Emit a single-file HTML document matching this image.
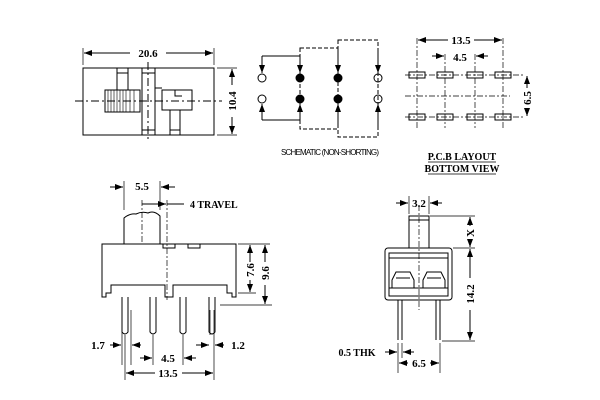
<!DOCTYPE html>
<html><head><style>body{margin:0;background:#fff}svg{display:block}</style></head><body>
<svg width="600" height="400" viewBox="0 0 600 400" xmlns="http://www.w3.org/2000/svg" font-family="Liberation Serif, serif" font-weight="bold" fill="none" stroke="#000" stroke-width="1">
<defs><marker id="a" markerWidth="8" markerHeight="6" refX="8" refY="3" orient="auto-start-reverse" markerUnits="userSpaceOnUse"><path d="M0,0L8,3L0,6z" fill="#000" stroke="none"/></marker></defs>
<!-- top left view -->
<rect x="83" y="68" width="131" height="67"/>
<line x1="75" y1="101" x2="222" y2="101" stroke-dasharray="8,3,2,3"/>
<line x1="148" y1="62" x2="148" y2="140" stroke-dasharray="8,3,2,3"/>
<rect x="105" y="90" width="35" height="22"/>
<path d="M108,90v22M111,90v22M114,90v22M117,90v22M120,90v22M123,90v22M126,90v22M130,90v22M134,90v22" stroke-width="0.6"/>
<path d="M117,90V68M128,90V68M117,73h11"/>
<path d="M142,68v67M155,68v67M142,73h13M142,130h13M155,88h7M162,90h30v20h-30zM170,110v25M180,110v25M170,130h10M175,90v6h7"/>
<path d="M83,65V48M214,65V48" stroke-width="0.7"/>
<line x1="84" y1="53" x2="130" y2="53" marker-start="url(#a)"/><line x1="166" y1="53" x2="213" y2="53" marker-end="url(#a)"/>
<text x="148" y="57" font-size="11" fill="#000" stroke="none" text-anchor="middle">20.6</text>
<path d="M217,68h20M217,135h20" stroke-width="0.7"/>
<line x1="232" y1="85" x2="232" y2="69" marker-end="url(#a)"/><line x1="232" y1="117" x2="232" y2="134" marker-end="url(#a)"/>
<text x="236" y="101" font-size="11" fill="#000" stroke="none" text-anchor="middle" transform="rotate(-90 236 101)">10.4</text>
<!-- schematic -->
<rect x="300" y="48" width="38" height="81" stroke-dasharray="4,2"/>
<rect x="338" y="40" width="40" height="97" stroke-dasharray="4,2"/>
<path d="M262,56h38M262,120h38"/>
<line x1="262" y1="56" x2="262" y2="73" marker-end="url(#a)"/><line x1="300" y1="56" x2="300" y2="73" marker-end="url(#a)"/>
<line x1="338" y1="48" x2="338" y2="73" marker-end="url(#a)"/><line x1="378" y1="48" x2="378" y2="73" marker-end="url(#a)"/>
<line x1="262" y1="120" x2="262" y2="104" marker-end="url(#a)"/><line x1="300" y1="120" x2="300" y2="104" marker-end="url(#a)"/>
<line x1="338" y1="128" x2="338" y2="104" marker-end="url(#a)"/><line x1="378" y1="128" x2="378" y2="104" marker-end="url(#a)"/>
<circle cx="262" cy="78" r="4"/><circle cx="378" cy="78" r="4"/><circle cx="262" cy="99" r="4"/><circle cx="378" cy="99" r="4"/>
<g fill="#000"><circle cx="300" cy="78" r="4"/><circle cx="338" cy="78" r="4"/><circle cx="300" cy="99" r="4"/><circle cx="338" cy="99" r="4"/></g>
<text x="330" y="155" font-family="Liberation Sans, sans-serif" font-weight="normal" font-size="8" fill="#000" stroke="none" text-anchor="middle" textLength="98">SCHEMATIC (NON-SHORTING)</text>
<!-- PCB -->
<path d="M405,75h120M405,96h105M405,117h120" stroke-dasharray="6,2,2,2" stroke-width="0.7"/>
<path d="M417,38v90M445,54v74M475,54v74M503,38v90" stroke-dasharray="6,2,2,2" stroke-width="0.7"/>
<g><rect x="409" y="72" width="16" height="6"/><rect x="437" y="72" width="16" height="6"/><rect x="467" y="72" width="16" height="6"/><rect x="495" y="72" width="16" height="6"/>
<rect x="409" y="114" width="16" height="6"/><rect x="437" y="114" width="16" height="6"/><rect x="467" y="114" width="16" height="6"/><rect x="495" y="114" width="16" height="6"/></g>
<line x1="448" y1="40" x2="418" y2="40" marker-end="url(#a)"/><line x1="474" y1="40" x2="502" y2="40" marker-end="url(#a)"/>
<text x="461" y="44" font-size="11" fill="#000" stroke="none" text-anchor="middle">13.5</text>
<line x1="432" y1="56" x2="444" y2="56" marker-end="url(#a)"/><line x1="488" y1="56" x2="476" y2="56" marker-end="url(#a)"/>
<text x="460" y="61" font-size="11" fill="#000" stroke="none" text-anchor="middle">4.5</text>
<line x1="527" y1="88" x2="527" y2="76" marker-end="url(#a)"/><line x1="527" y1="108" x2="527" y2="116" marker-end="url(#a)"/>
<text x="531" y="98" font-size="11" fill="#000" stroke="none" text-anchor="middle" transform="rotate(-90 531 98)">6.5</text>
<text x="462" y="160" font-size="10" fill="#000" stroke="none" text-anchor="middle">P.C.B LAYOUT</text>
<text x="462" y="172" font-size="10" fill="#000" stroke="none" text-anchor="middle">BOTTOM VIEW</text>
<path d="M428,162h68M428,174h68" stroke-width="0.8"/>
<!-- front view -->
<path d="M124,244V218q6,-5 12,-4q6,-3 12,-1q6,-3 12,3V244"/>
<line x1="142" y1="200" x2="142" y2="244" stroke-dasharray="6,2,2,2" stroke-width="0.7"/>
<line x1="167" y1="200" x2="167" y2="300" stroke-dasharray="6,2,2,2" stroke-width="0.7"/>
<path d="M102,244h134v53h-4v-4h-5v-8h-54v12h-8v-12h-54v8h-5v4h-4z"/>
<rect x="163" y="244" width="12" height="4"/><rect x="188" y="244" width="12" height="4"/>
<g><path d="M122,297v35q3,4 6,0v-35M150,297v35q3,4 6,0v-35M180,297v35q3,4 6,0v-35M209,297v35q3,4 6,0v-35"/></g>
<path d="M124,210V181M160,210V181" stroke-width="0.7"/>
<line x1="110" y1="187" x2="123" y2="187" marker-end="url(#a)"/><line x1="175" y1="187" x2="161" y2="187" marker-end="url(#a)"/>
<text x="142" y="190" font-size="11" fill="#000" stroke="none" text-anchor="middle">5.5</text>
<line x1="142" y1="204" x2="166" y2="204" marker-end="url(#a)"/><line x1="167" y1="204" x2="184" y2="204"/>
<text x="190" y="208" font-size="10" fill="#000" stroke="none">4 TRAVEL</text>
<path d="M238,244h32M238,293h18M220,305h52" stroke-width="0.7"/>
<line x1="250" y1="262" x2="250" y2="245" marker-end="url(#a)"/><line x1="250" y1="280" x2="250" y2="292" marker-end="url(#a)"/>
<text x="254" y="270" font-size="11" fill="#000" stroke="none" text-anchor="middle" transform="rotate(-90 254 270)">7.6</text>
<line x1="265" y1="262" x2="265" y2="245" marker-end="url(#a)"/><line x1="265" y1="285" x2="265" y2="304" marker-end="url(#a)"/>
<text x="269" y="273" font-size="11" fill="#000" stroke="none" text-anchor="middle" transform="rotate(-90 269 273)">9.6</text>
<path d="M122,310v55M131,310v55M153,335v30M183,335v30M210,310v25M214,310v70M125,335v45" stroke-width="0.7"/>
<line x1="110" y1="345" x2="121" y2="345" marker-end="url(#a)"/><line x1="141" y1="345" x2="132" y2="345" marker-end="url(#a)"/>
<text x="98" y="349" font-size="11" fill="#000" stroke="none" text-anchor="middle">1.7</text>
<line x1="196" y1="345" x2="209" y2="345" marker-end="url(#a)"/><line x1="224" y1="345" x2="215" y2="345" marker-end="url(#a)"/>
<text x="238" y="349" font-size="11" fill="#000" stroke="none" text-anchor="middle">1.2</text>
<line x1="140" y1="358" x2="152" y2="358" marker-end="url(#a)"/><line x1="196" y1="358" x2="184" y2="358" marker-end="url(#a)"/>
<text x="168" y="362" font-size="11" fill="#000" stroke="none" text-anchor="middle">4.5</text>
<line x1="155" y1="373" x2="126" y2="373" marker-end="url(#a)"/><line x1="182" y1="373" x2="213" y2="373" marker-end="url(#a)"/>
<text x="168" y="377" font-size="11" fill="#000" stroke="none" text-anchor="middle">13.5</text>
<!-- side view -->
<rect x="385" y="248" width="67" height="52" rx="3"/>
<rect x="389" y="253" width="59" height="43"/>
<path d="M389,258h59M389,288h59"/>
<path d="M392,288v-8l4,-8h14l4,8v8M423,288v-8l4,-8h14l4,8v8M396,278h14M427,278h14"/>
<path d="M409,248V216h20v32M409,220h20"/>
<line x1="419" y1="205" x2="419" y2="310" stroke-dasharray="6,2,2,2" stroke-width="0.7"/>
<path d="M398,300v40M402,300v40M436,300v40M440,300v40"/>
<path d="M409,214V196M429,214V196" stroke-width="0.7"/>
<line x1="396" y1="203" x2="408" y2="203" marker-end="url(#a)"/><line x1="442" y1="203" x2="430" y2="203" marker-end="url(#a)"/>
<text x="419" y="207" font-size="11" fill="#000" stroke="none" text-anchor="middle">3.2</text>
<path d="M430,216h45M453,248h22M442,341h33" stroke-width="0.7"/>
<line x1="470" y1="226" x2="470" y2="217" marker-end="url(#a)"/><line x1="470" y1="240" x2="470" y2="247" marker-end="url(#a)"/>
<text x="474" y="233" font-size="11" fill="#000" stroke="none" text-anchor="middle" transform="rotate(-90 474 233)">X</text>
<line x1="470" y1="278" x2="470" y2="249" marker-end="url(#a)"/><line x1="470" y1="310" x2="470" y2="340" marker-end="url(#a)"/>
<text x="474" y="294" font-size="11" fill="#000" stroke="none" text-anchor="middle" transform="rotate(-90 474 294)">14.2</text>
<path d="M398,343v30M402,343v15M440,343v30" stroke-width="0.7"/>
<line x1="385" y1="352" x2="397" y2="352" marker-end="url(#a)"/><line x1="414" y1="352" x2="403" y2="352" marker-end="url(#a)"/>
<text x="357" y="356" font-size="10" fill="#000" stroke="none" text-anchor="middle">0.5 THK</text>
<line x1="408" y1="363" x2="399" y2="363" marker-end="url(#a)"/><line x1="430" y1="363" x2="439" y2="363" marker-end="url(#a)"/>
<text x="419" y="367" font-size="11" fill="#000" stroke="none" text-anchor="middle">6.5</text>
</svg>
</body></html>
